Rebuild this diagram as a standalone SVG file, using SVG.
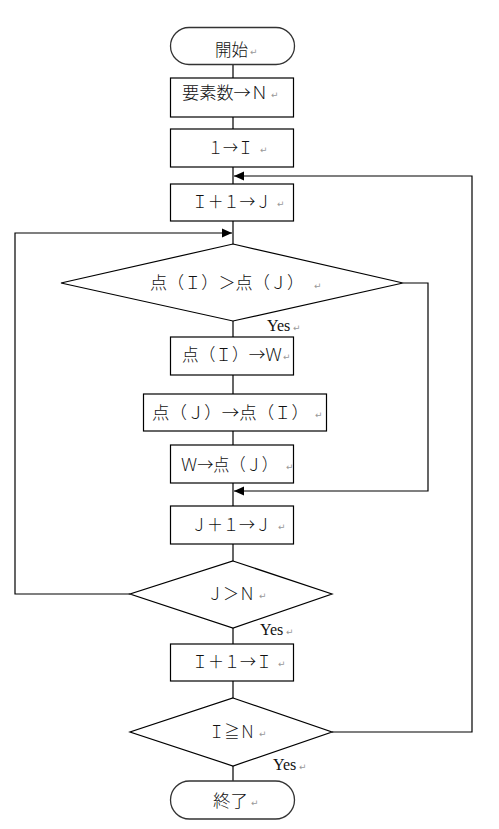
<svg xmlns="http://www.w3.org/2000/svg" width="499" height="829" viewBox="0 0 499 829">
<style>
.s{fill:#fff;stroke:#000;stroke-width:1.2}
.c{fill:none;stroke:#000;stroke-width:1.2}
.x{font-family:"Noto Sans CJK JP","Noto Sans CJK SC",sans-serif;font-size:17px;font-weight:300;fill:#111}
.m{font-family:"DejaVu Sans",sans-serif;font-size:9px;fill:#999}
.y{font-family:"Liberation Serif",serif;font-size:16px;fill:#111}
</style>
<defs>
<marker id="a" viewBox="0 0 10 10" refX="10" refY="5" markerWidth="10" markerHeight="10" markerUnits="userSpaceOnUse" orient="auto">
<path d="M0,0.5 L10,5 L0,9.5 Z" fill="#000"/>
</marker>
</defs>
<rect width="499" height="829" fill="#fff"/>
<g id="connectors">
<path class="c" d="M233,65V78 M233,117V129 M233,167V184 M233,221V244 M233,321V337 M233,375V394 M233,431V445 M233,483V506 M233,544V561 M233,628V644 M233,681V698 M233,766V781"/>
<path class="c" d="M332,732H472V176H234" marker-end="url(#a)"/>
<path class="c" d="M403,283H428V491H234" marker-end="url(#a)"/>
<path class="c" d="M130,594H15V233H232" marker-end="url(#a)"/>
<text class="y" x="267" y="331">Yes</text><text class="m" x="293" y="331">↵</text>
<text class="y" x="260" y="635">Yes</text><text class="m" x="286" y="635">↵</text>
<text class="y" x="273" y="770">Yes</text><text class="m" x="299" y="770">↵</text>
</g>
<g id="start">
<rect x="170.5" y="27.5" width="124" height="37" rx="18.5" fill="#fff" stroke="#333" stroke-width="1.3"/>
<text class="x" x="215" y="56" textLength="33" lengthAdjust="spacingAndGlyphs">開始</text><text class="m" x="250" y="55">↵</text>
</g>
<g id="n1">
<rect class="s" x="170.5" y="78" width="123" height="39"/>
<text class="x" x="182" y="99" textLength="86" lengthAdjust="spacingAndGlyphs">要素数→Ｎ</text><text class="m" x="271" y="98">↵</text>
</g>
<g id="n2">
<rect class="s" x="170.5" y="129" width="123" height="38"/>
<text class="x" x="208" y="154" textLength="45" lengthAdjust="spacingAndGlyphs">１→Ｉ</text><text class="m" x="260" y="153">↵</text>
</g>
<g id="n3">
<rect class="s" x="170.5" y="184" width="123" height="37"/>
<text class="x" x="192" y="208" textLength="79" lengthAdjust="spacingAndGlyphs">Ｉ＋１→Ｊ</text><text class="m" x="277" y="207">↵</text>
</g>
<g id="d1">
<polygon class="s" points="233,244 403,283 233,321 61,283"/>
<text class="x" x="150" y="289" textLength="154" lengthAdjust="spacingAndGlyphs">点（Ｉ）＞点（Ｊ）</text><text class="m" x="314" y="289">↵</text>
</g>
<g id="n4">
<rect class="s" x="170.5" y="337" width="123" height="38"/>
<text class="x" x="182" y="361" textLength="100" lengthAdjust="spacingAndGlyphs">点（Ｉ）→Ｗ</text><text class="m" x="283" y="360">↵</text>
</g>
<g id="n5">
<rect class="s" x="143.5" y="394" width="183" height="37"/>
<text class="x" x="152" y="419" textLength="157" lengthAdjust="spacingAndGlyphs">点（Ｊ）→点（Ｉ）</text><text class="m" x="315" y="418">↵</text>
</g>
<g id="n6">
<rect class="s" x="170.5" y="445" width="123" height="38"/>
<text class="x" x="181" y="471" textLength="97" lengthAdjust="spacingAndGlyphs">Ｗ→点（Ｊ）</text><text class="m" x="286" y="470">↵</text>
</g>
<g id="n7">
<rect class="s" x="170.5" y="506" width="123" height="38"/>
<text class="x" x="191" y="531" textLength="80" lengthAdjust="spacingAndGlyphs">Ｊ＋１→Ｊ</text><text class="m" x="278" y="530">↵</text>
</g>
<g id="d2">
<polygon class="s" points="233,561 332,594 233,628 130,594"/>
<text class="x" x="207" y="600" textLength="48" lengthAdjust="spacingAndGlyphs">Ｊ＞Ｎ</text><text class="m" x="259" y="599">↵</text>
</g>
<g id="n8">
<rect class="s" x="170.5" y="644" width="123" height="37"/>
<text class="x" x="192" y="668" textLength="80" lengthAdjust="spacingAndGlyphs">Ｉ＋１→Ｉ</text><text class="m" x="278" y="667">↵</text>
</g>
<g id="d3">
<polygon class="s" points="233,698 332,732 233,766 130,732"/>
<text class="x" x="209" y="738" textLength="46" lengthAdjust="spacingAndGlyphs">Ｉ≧Ｎ</text><text class="m" x="259" y="737">↵</text>
</g>
<g id="end">
<rect x="170.5" y="781" width="124" height="38" rx="19" fill="#fff" stroke="#333" stroke-width="1.3"/>
<text class="x" x="213" y="807" textLength="35" lengthAdjust="spacingAndGlyphs">終了</text><text class="m" x="251" y="806">↵</text>
</g>
</svg>
